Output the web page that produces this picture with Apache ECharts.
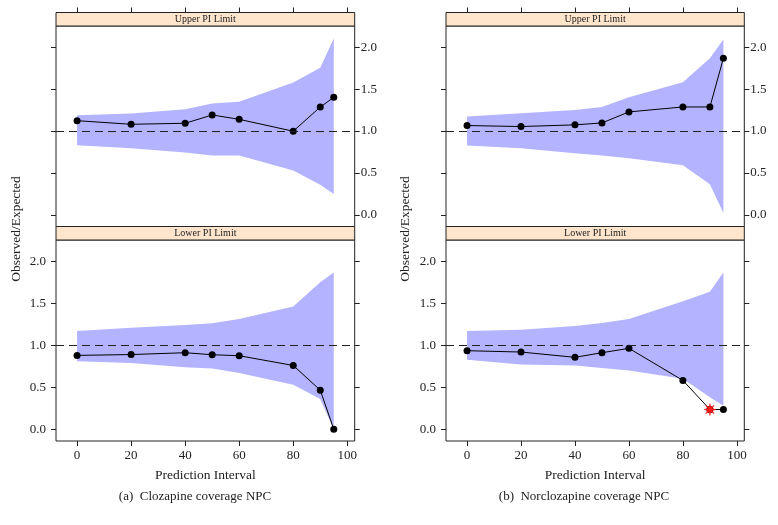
<!DOCTYPE html>
<html>
<head>
<meta charset="utf-8">
<script src="https://cdn.jsdelivr.net/npm/echarts@6/dist/echarts.min.js"></script>
<style>
  html, body { margin: 0; padding: 0; background: #fff; }
  #chart { width: 778px; height: 525px; }
</style>
</head>
<body>
<div id="chart"></div>
<script>
// prediction intervals (x axis)
const piLevels = [0, 20, 40, 50, 60, 80, 90, 95];

// (a) clozapine, upper PI limit
const clozUpperObs = [1.124, 1.081, 1.093, 1.192, 1.14, 0.998, 1.287, 1.403];
const clozUpperHi = [1.19, 1.21, 1.26, 1.33, 1.35, 1.58, 1.756, 2.106];
const clozUpperLo = [0.83, 0.795, 0.743, 0.707, 0.707, 0.528, 0.358, 0.247];
// (a) clozapine, lower PI limit
const clozLowerObs = [0.88, 0.89, 0.912, 0.888, 0.876, 0.76, 0.466, 0];
const clozLowerHi = [1.17, 1.21, 1.243, 1.263, 1.315, 1.462, 1.753, 1.868];
const clozLowerLo = [0.81, 0.79, 0.74, 0.725, 0.67, 0.53, 0.36, 0];

// (b) norclozapine, upper PI limit
const norUpperObs = [1.066, 1.054, 1.074, 1.097, 1.229, 1.288, 1.288, 1.869];
const norUpperHi = [1.173, 1.213, 1.252, 1.288, 1.404, 1.583, 1.869, 2.095];
const norUpperLo = [0.827, 0.795, 0.736, 0.708, 0.676, 0.592, 0.366, 0.02];
// (b) norclozapine, lower PI limit
const norLowerObs = [0.936, 0.92, 0.857, 0.912, 0.964, 0.582, 0.235, 0.235];
const norLowerHi = [1.17, 1.187, 1.231, 1.267, 1.315, 1.526, 1.637, 1.868];
const norLowerLo = [0.829, 0.773, 0.761, 0.729, 0.701, 0.602, 0.38, 0.28];
// point outside the interval (drawn red)
const norLowerFlag = [[90, 0.235]];

const xTicks = [0, 20, 40, 60, 80, 100];
const yTicks = [0, 0.5, 1, 1.5, 2];
const captions = ['(a)  Clozapine coverage NPC', '(b)  Norclozapine coverage NPC'];

const FONT = "'Liberation Serif', 'DejaVu Serif', serif";
const STRIP_H = 13.5;

const panels = [
  { left: 56, top: 26, width: 298.7, height: 200.5, strip: 'Upper PI Limit', upper: true,
    obs: clozUpperObs, hi: clozUpperHi, lo: clozUpperLo, flag: [] },
  { left: 56, top: 240, width: 298.7, height: 201, strip: 'Lower PI Limit', upper: false,
    obs: clozLowerObs, hi: clozLowerHi, lo: clozLowerLo, flag: [] },
  { left: 446, top: 26, width: 298.3, height: 200.5, strip: 'Upper PI Limit', upper: true,
    obs: norUpperObs, hi: norUpperHi, lo: norUpperLo, flag: [] },
  { left: 446, top: 240, width: 298.3, height: 201, strip: 'Lower PI Limit', upper: false,
    obs: norLowerObs, hi: norLowerHi, lo: norLowerLo, flag: norLowerFlag }
];

// 8 spoke star for the flagged point
function starPath() {
  let d = '';
  for (let k = 0; k < 16; k++) {
    const r = k % 2 === 0 ? 10 : 4;
    const a = (Math.PI * k) / 8 - Math.PI / 2;
    d += (k === 0 ? 'M' : 'L') + (r * Math.cos(a)).toFixed(2) + ' ' + (r * Math.sin(a)).toFixed(2);
  }
  return 'path://' + d + 'Z';
}

const grid = [], xAxis = [], yAxis = [], series = [], graphic = [];
const tickLabel = { fontFamily: FONT, fontSize: 13, color: '#222' };

panels.forEach((p, i) => {
  grid.push({ left: p.left, top: p.top, width: p.width, height: p.height,
    show: true, borderColor: '#222', borderWidth: 1, backgroundColor: 'transparent' });

  xAxis.push({
    type: 'value', gridIndex: i, min: -7.8, max: 102.75,
    position: p.upper ? 'top' : 'bottom',
    offset: p.upper ? STRIP_H : 0,
    axisLine: { show: false, onZero: false },
    axisTick: { show: true, inside: false, length: 5, customValues: xTicks, lineStyle: { color: '#222' } },
    axisLabel: { show: !p.upper, margin: 8, customValues: xTicks, ...tickLabel },
    splitLine: { show: false },
    name: p.upper ? '' : 'Prediction Interval',
    nameLocation: 'middle', nameGap: 27,
    nameTextStyle: { fontFamily: FONT, fontSize: 13.5, color: '#222' }
  });

  ['left', 'right'].forEach(side => {
    const labelled = (side === 'right') === p.upper;
    yAxis.push({
      type: 'value', gridIndex: i, min: -0.14, max: 2.255, position: side,
      axisLine: { show: false, onZero: false },
      axisTick: { show: true, inside: false, length: 5, customValues: yTicks, lineStyle: { color: '#222' } },
      axisLabel: { show: labelled, margin: side === 'left' ? 10 : 6, customValues: yTicks,
        formatter: v => v.toFixed(1), ...tickLabel },
      splitLine: { show: false }
    });
  });

  const xy = arr => piLevels.map((x, j) => [x, arr[j]]);

  // prediction band as one polygon: upper edge, then lower edge back
  series.push({
    type: 'custom', xAxisIndex: i, yAxisIndex: 2 * i, silent: true, z: 1,
    data: [[piLevels[0], p.lo[0]]],
    renderItem: (params, api) => {
      const top = piLevels.map((x, j) => api.coord([x, p.hi[j]]));
      const bottom = piLevels.map((x, j) => api.coord([x, p.lo[j]])).reverse();
      return { type: 'polygon', shape: { points: top.concat(bottom) },
        style: { fill: '#b3b3ff' } };
    }
  });
  series.push({
    type: 'line', xAxisIndex: i, yAxisIndex: 2 * i, data: xy(p.obs), z: 3,
    symbol: 'circle', symbolSize: 7, color: '#000',
    itemStyle: { color: '#000' }, lineStyle: { color: '#000', width: 1 },
    markLine: {
      silent: true, symbol: 'none', label: { show: false },
      lineStyle: { color: '#222', width: 1.1, type: [8, 5] },
      data: [{ yAxis: 1 }]
    }
  });
  if (p.flag.length) {
    series.push({
      type: 'scatter', xAxisIndex: i, yAxisIndex: 2 * i, data: p.flag,
      symbol: starPath(), symbolSize: 12, z: 5,
      itemStyle: { color: '#ff1a1a', borderColor: '#ff1a1a', borderWidth: 0.5, opacity: 1 }
    });
  }

  // lattice strip above the panel
  graphic.push({
    type: 'rect', silent: true, z: 10,
    shape: { x: p.left, y: p.top - STRIP_H, width: p.width, height: STRIP_H },
    style: { fill: '#ffe5cc', stroke: '#222', lineWidth: 1 }
  });
  graphic.push({
    type: 'text', silent: true, z: 11,
    x: p.left + p.width / 2, y: p.top - STRIP_H / 2,
    style: { text: p.strip, font: '10px ' + FONT, fill: '#222', align: 'center', verticalAlign: 'middle' }
  });
});

// y axis titles and captions
[16.5, 405].forEach((x, k) => {
  graphic.push({
    type: 'text', silent: true, x: x, y: 229, rotation: Math.PI / 2,
    style: { text: 'Observed/Expected', font: '13.5px ' + FONT, fill: '#222', align: 'center', verticalAlign: 'middle' }
  });
  graphic.push({
    type: 'text', silent: true, x: k === 0 ? 195 : 584, y: 497,
    style: { text: captions[k], font: '13px ' + FONT, fill: '#222', align: 'center', verticalAlign: 'middle' }
  });
});

const chart = echarts.init(document.getElementById('chart'));
chart.setOption({
  animation: false,
  backgroundColor: '#fff',
  grid: grid,
  xAxis: xAxis,
  yAxis: yAxis,
  series: series,
  graphic: graphic
});
</script>
</body>
</html>
